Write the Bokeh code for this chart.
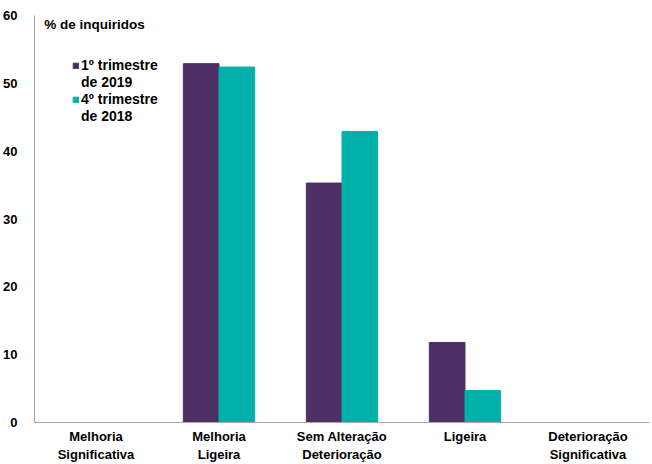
from bokeh.plotting import figure
from bokeh.models import ColumnDataSource, FixedTicker, Legend, LegendItem, Label, Range1d
from bokeh.embed import file_html
from bokeh.resources import INLINE

categories = ["Melhoria\nSignificativa", "Melhoria\nLigeira", "Sem Alteração\nDeterioração",
              "Ligeira", "Deterioração\nSignificativa"]
q1_2019 = [0.0, 52.9, 35.3, 11.8, 0.0]
q4_2018 = [0.0, 52.4, 42.9, 4.7, 0.0]
y_ticks = [0, 10, 20, 30, 40, 50, 60]
series_lines = [["1º trimestre", "de 2019"], ["4º trimestre", "de 2018"]]

PURPLE = "#4E3067"
TEAL = "#00B1A9"
FONT = "Liberation Sans"

idx = list(range(len(categories)))
src = ColumnDataSource(dict(
    x1=[i - 0.145 for i in idx], x2=[i + 0.145 for i in idx],
    a=q1_2019, b=q4_2018))

p = figure(width=652, height=464, output_backend="svg", toolbar_location=None,
           x_range=Range1d(-0.5, 4.5), y_range=Range1d(0, 60),
           min_border_left=31, min_border_right=3, min_border_top=15, min_border_bottom=30)
p.outline_line_color = None
p.xgrid.visible = False
p.ygrid.visible = False

r1 = p.vbar(x="x1", top="a", width=0.29, source=src, fill_color=PURPLE, line_color=PURPLE)
r2 = p.vbar(x="x2", top="b", width=0.29, source=src, fill_color=TEAL, line_color=TEAL)
# invisible renderer used only for second lines of legend labels
blank = p.vbar(x=[], top=[], width=0.29, fill_alpha=0, line_alpha=0)

p.yaxis.ticker = FixedTicker(ticks=y_ticks)
p.yaxis.major_tick_line_color = None
p.yaxis.minor_tick_line_color = None
p.yaxis.axis_line_color = "#A6A6A6"
p.yaxis.major_label_standoff = 11
p.yaxis.major_label_text_font = FONT
p.yaxis.major_label_text_font_style = "bold"
p.yaxis.major_label_text_font_size = "13px"
p.yaxis.major_label_text_color = "#000000"

p.xaxis.ticker = FixedTicker(ticks=idx)
p.xaxis.major_label_overrides = {i: c for i, c in zip(idx, categories)}
p.xaxis.major_tick_line_color = None
p.xaxis.minor_tick_line_color = None
p.xaxis.axis_line_color = "#A6A6A6"
p.xaxis.major_label_standoff = 0
p.xaxis.major_label_text_font = FONT
p.xaxis.major_label_text_font_style = "bold"
p.xaxis.major_label_text_font_size = "13px"
p.xaxis.major_label_text_color = "#000000"

p.add_layout(Label(x=-0.42, y=59.8, text="% de inquiridos", text_font=FONT,
                   text_font_style="bold", text_font_size="13.5px", text_baseline="top",
                   text_color="#000000"))

legend = Legend(items=[LegendItem(label=series_lines[0][0], renderers=[r1]),
                       LegendItem(label=series_lines[0][1], renderers=[blank]),
                       LegendItem(label=series_lines[1][0], renderers=[r2]),
                       LegendItem(label=series_lines[1][1], renderers=[blank])],
                location=(38, 298), orientation="vertical",
                label_text_font=FONT, label_text_font_style="bold",
                label_text_font_size="14px", label_text_color="#000000",
                label_height=14, glyph_width=7, glyph_height=7, label_standoff=2, spacing=1,
                padding=0, margin=0, border_line_color=None, background_fill_alpha=0)
p.add_layout(legend)

open("out.html", "w").write(file_html(p, INLINE))
